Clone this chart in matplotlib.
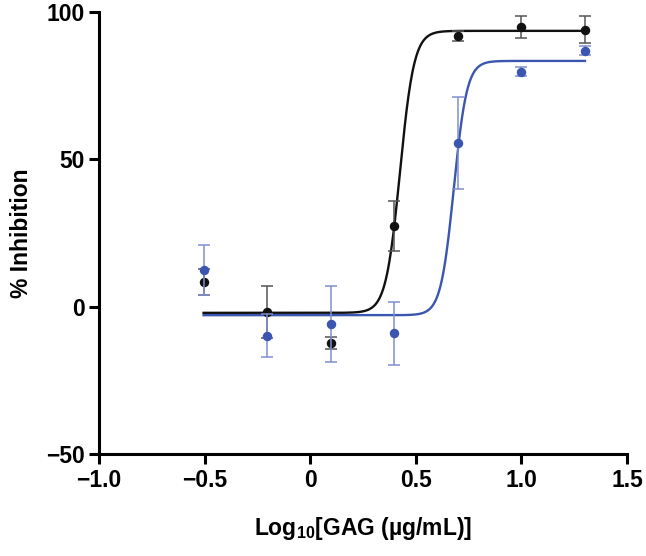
import numpy as np
import matplotlib.pyplot as plt

plt.rcParams['font.family'] = ['Liberation Sans', 'DejaVu Sans']
plt.rcParams['font.weight'] = 'bold'
plt.rcParams['mathtext.fontset'] = 'custom'
plt.rcParams['mathtext.rm'] = 'Liberation Sans:bold'
plt.rcParams['mathtext.bf'] = 'Liberation Sans:bold'

# log10 of GAG concentration
log_conc = [-0.505, -0.204, 0.097, 0.398, 0.699, 1.0, 1.301]

# black series
black_mean = [8.3, -1.8, -12.4, 27.4, 91.9, 95.0, 94.0]
black_err = [4.4, 8.9, 2.0, 8.6, 1.6, 3.7, 4.5]
# blue series
blue_mean = [12.4, -9.8, -5.9, -9.1, 55.4, 79.8, 86.8]
blue_err = [8.6, 7.3, 13.0, 10.7, 15.6, 1.5, 1.5]

# fitted 4PL parameters: bottom, top, logEC50, hill
black_fit = [-2.1, 93.6, 0.425, 13.0]
blue_fit = [-2.9, 83.4, 0.68, 14.0]

black_col = '#111111'
blue_col = '#3a56b0'


def fourpl(x, bottom, top, logec50, hill):
    return bottom + (top - bottom) / (1 + 10 ** ((logec50 - x) * hill))


fig = plt.figure(figsize=(6.46, 5.56), dpi=100)
ax = fig.add_axes([0.1533, 0.1835, 0.8173, 0.7949])

xx = np.linspace(log_conc[0], log_conc[-1], 600)
ax.plot(xx, fourpl(xx, *black_fit), color=black_col, lw=1.7, zorder=3)
ax.plot(xx, fourpl(xx, *blue_fit), color=blue_col, lw=1.7, zorder=3)

ax.errorbar(log_conc, black_mean, yerr=black_err, fmt='o', color=black_col,
            ecolor='#555555', elinewidth=1.1, capsize=4.5, capthick=1.1,
            markersize=5.8, zorder=4)
ax.errorbar(log_conc, blue_mean, yerr=blue_err, fmt='o', color=blue_col,
            ecolor='#7f8fcf', elinewidth=1.1, capsize=4.5, capthick=1.1,
            markersize=5.8, zorder=5)

ax.set_xlim(-1.0, 1.5)
ax.set_ylim(-50, 100)
ax.set_xticks([-1.0, -0.5, 0, 0.5, 1.0, 1.5])
ax.set_xticklabels(['\u22121.0', '\u22120.5', '0', '0.5', '1.0', '1.5'])
ax.set_yticks([-50, 0, 50, 100])
ax.set_yticklabels(['\u221250', '0', '50', '100'])

for s in ['top', 'right']:
    ax.spines[s].set_visible(False)
for s in ['left', 'bottom']:
    ax.spines[s].set_linewidth(2.2)
ax.tick_params(width=2.2, length=7.5, labelsize=16.5, pad=3)

ax.set_xlabel('Log$_{10}$[GAG (\u00b5g/mL)]',
              fontsize=16.5, fontweight='bold', labelpad=17)
ax.set_ylabel('% Inhibition', fontsize=16.5, fontweight='bold', labelpad=9)

fig.savefig('out.png', dpi=100)
